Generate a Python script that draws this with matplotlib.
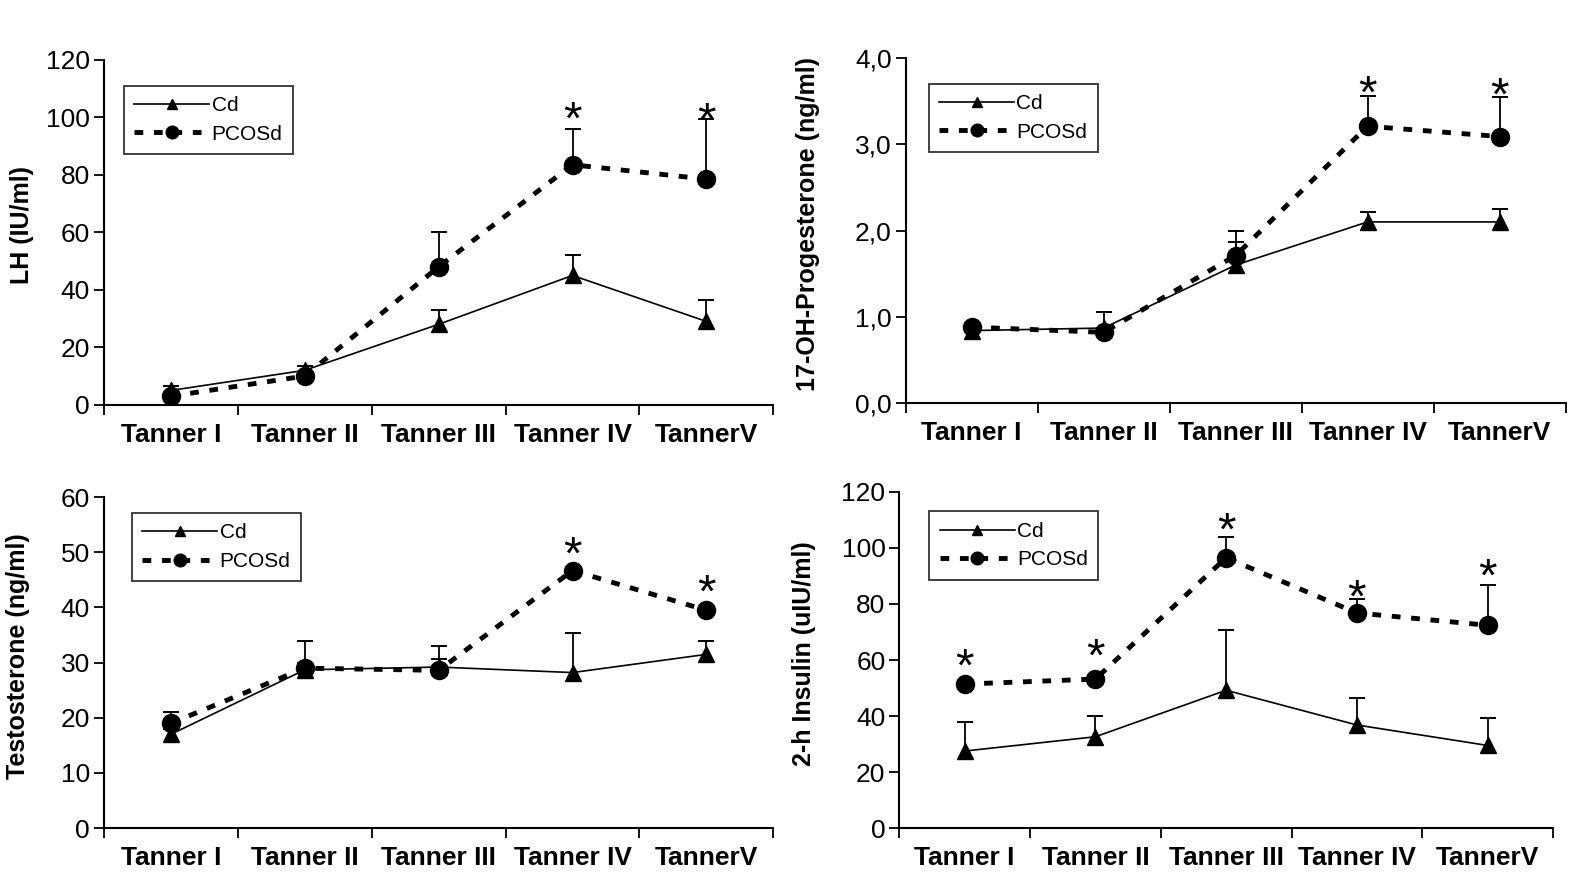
import numpy as np
import matplotlib
matplotlib.use('Agg')
import matplotlib.pyplot as plt
import matplotlib.transforms as mtrans

plt.rcParams['font.family'] = ['Liberation Sans', 'DejaVu Sans']

stages = ['Tanner I', 'Tanner II', 'Tanner III', 'Tanner IV', 'TannerV']

# LH (IU/ml)
lh_cd = [5, 12, 28, 45, 29]
lh_cd_err = [1.5, 1.5, 5, 7, 7.5]
lh_pc = [3, 10, 48, 83.5, 78.5]
lh_pc_err = [1, 1.5, 12, 12.5, 21]
lh_star = [None, None, None, 102, 101.5]

# 17-OH-Progesterone (ng/ml)
ohp_cd = [0.84, 0.87, 1.6, 2.1, 2.1]
ohp_cd_err = [0.03, 0.19, 0.27, 0.12, 0.15]
ohp_pc = [0.88, 0.82, 1.71, 3.21, 3.09]
ohp_pc_err = [0.05, 0.05, 0.28, 0.35, 0.46]
ohp_star = [None, None, None, 3.68, 3.65]

# Testosterone (ng/ml)
t_cd = [17, 28.7, 29.2, 28.2, 31.5]
t_cd_err = [1, 5.3, 1.5, 7.2, 2.5]
t_pc = [19, 29, 28.6, 46.7, 39.5]
t_pc_err = [2, 1, 4.5, 0.5, 0.5]
t_star = [None, None, None, 51, 44]

# 2-h Insulin (uIU/ml)
ins_cd = [27.5, 32.6, 49.2, 36.8, 29.5]
ins_cd_err = [10.5, 7.5, 21.5, 9.5, 9.8]
ins_pc = [51.4, 53.2, 96.5, 76.8, 72.4]
ins_pc_err = [0.5, 0.5, 7.5, 5, 14.5]
ins_star = [60.5, 64, 109, 85, 92.5]

panels = [
    ('LH (IU/ml)', lh_cd, lh_cd_err, lh_pc, lh_pc_err, lh_star,
     [0, 20, 40, 60, 80, 100, 120], ['0', '20', '40', '60', '80', '100', '120']),
    ('17-OH-Progesterone (ng/ml)', ohp_cd, ohp_cd_err, ohp_pc, ohp_pc_err, ohp_star,
     [0, 1, 2, 3, 4], ['0,0', '1,0', '2,0', '3,0', '4,0']),
    ('Testosterone (ng/ml)', t_cd, t_cd_err, t_pc, t_pc_err, t_star,
     [0, 10, 20, 30, 40, 50, 60], ['0', '10', '20', '30', '40', '50', '60']),
    ('2-h Insulin (uIU/ml)', ins_cd, ins_cd_err, ins_pc, ins_pc_err, ins_star,
     [0, 20, 40, 60, 80, 100, 120], ['0', '20', '40', '60', '80', '100', '120']),
]

# axes boxes in figure fractions (left, bottom, width, height)
boxes = [
    (0.066, 0.540, 0.425, 0.392),
    (0.575, 0.542, 0.419, 0.392),
    (0.066, 0.059, 0.425, 0.376),
    (0.571, 0.059, 0.415, 0.382),
]
legend_pos = [(0.03, 0.925), (0.035, 0.925), (0.042, 0.952), (0.046, 0.942)]
ylabel_x = [-0.105, -0.13, -0.11, -0.127]

fig = plt.figure(figsize=(15.75, 8.8), dpi=100)

x = np.arange(len(stages)) + 0.5

for i, (ylab, cd, cd_err, pc, pc_err, star, yt, ytl) in enumerate(panels):
    ax = fig.add_axes(boxes[i])

    # upper-only error bars: stem from the mean, cap on top
    for vals, errs in [(cd, cd_err), (pc, pc_err)]:
        top = np.array(vals) + np.array(errs)
        ax.vlines(x, vals, top, color='black', lw=1.3, zorder=2)
        ax.plot(x, top, '_', color='black', markersize=11, mew=1.4, zorder=2)

    ax.plot(x, cd, '-', color='black', lw=1.2, marker='^', markersize=11,
            label='Cd', zorder=3)
    ax.plot(x, pc, color='black', lw=3.5, linestyle=(0, (1.8, 2.2)),
            marker='o', markersize=13, label='PCOSd', zorder=4)

    # the asterisk glyph sits high in its box, nudge it down a bit
    star_tr = mtrans.offset_copy(ax.transData, fig=fig, y=-7, units='points')
    for xi, s in zip(x, star):
        if s is not None:
            ax.text(xi, s, '*', ha='center', va='center', fontsize=34,
                    color='black', transform=star_tr)

    ax.set_xlim(0, 5)
    ax.set_ylim(yt[0], yt[-1])
    ax.set_yticks(yt)
    ax.set_yticklabels(ytl, fontsize=19)
    ax.set_xticks(np.arange(0, 6))
    ax.set_xticklabels([])
    ax.set_xticks(x, minor=True)
    ax.set_xticklabels(stages, minor=True, fontsize=19, fontweight='bold')
    ax.tick_params(axis='x', which='major', direction='out', length=7, width=1.3)
    ax.tick_params(axis='x', which='minor', length=0, pad=13)
    ax.tick_params(axis='y', direction='out', length=7, width=1.3, pad=3)

    for side in ['top', 'right']:
        ax.spines[side].set_visible(False)
    for side in ['left', 'bottom']:
        ax.spines[side].set_linewidth(1.5)

    ax.set_ylabel(ylab, fontsize=18, fontweight='bold')
    ax.yaxis.set_label_coords(ylabel_x[i], 0.52)

    leg = ax.legend(loc='upper left', bbox_to_anchor=legend_pos[i],
                    fontsize=15, frameon=True, fancybox=False, numpoints=1,
                    handlelength=3.6, handletextpad=0.1, markerscale=0.7,
                    borderpad=0.5, labelspacing=0.45, borderaxespad=0)
    leg.get_frame().set_edgecolor('black')
    leg.get_frame().set_linewidth(1.3)

fig.savefig('out.png', dpi=100)
